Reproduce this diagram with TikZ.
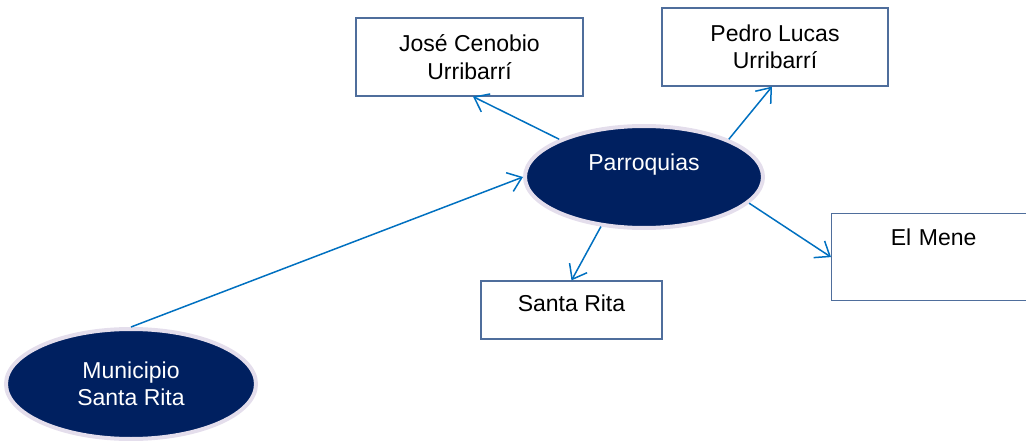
\documentclass[tikz,border=0pt]{standalone}
\usepackage{fontspec}
\setmainfont{Liberation Sans}
\usetikzlibrary{shapes.geometric,arrows.meta}
\definecolor{navy}{HTML}{002060}
\definecolor{rim}{HTML}{E4DEEC}
\definecolor{boxline}{HTML}{4F6E9C}
\definecolor{arrowblue}{HTML}{0070C0}
\tikzset{
  oval/.style={ellipse, fill=navy, draw=rim, line width=4pt, text=white, align=center,
    font=\fontsize{23}{27.5}\selectfont, inner sep=0pt},
  box/.style={rectangle, draw=boxline, line width=1.2pt, fill=white, align=center,
    font=\fontsize{23}{27.5}\selectfont, inner sep=0pt},
  link/.style={draw=arrowblue, line width=1.5pt, -{Straight Barb[length=13pt,width=20pt,line width=1.5pt]}}
}
\begin{document}
\begin{tikzpicture}[x=1pt,y=-1pt]
\useasboundingbox (0,0) rectangle (1026,441);
\node[oval, minimum width=250pt, minimum height=110pt] (mun) at (131,384) {Municipio\\Santa Rita};
\node[oval, minimum width=238pt, minimum height=102pt, text height=16pt, text depth=28pt] (parr) at (644,177) {Parroquias};
\node[box, minimum width=227pt, minimum height=78pt] (jose) at (469.5,57) {José Cenobio\\Urribarrí};
\node[box, minimum width=226pt, minimum height=78pt] (pedro) at (775,47) {Pedro Lucas\\Urribarrí};
\node[box, minimum width=181pt, minimum height=58pt, text height=16pt, text depth=14pt] (santa) at (571.5,310) {Santa Rita};
\node[box, anchor=north west, minimum width=204pt, inner ysep=16pt, inner xsep=0pt, text width=204pt, text height=16pt, text depth=39pt] (mene) at (831,213) {El Mene};
\draw[link] (mun.north) -- (parr.west);
\draw[link] (parr.156) -- ([xshift=3.5pt]jose.south);
\draw[link] (parr.24) -- ([xshift=-3pt]pedro.south);
\draw[link] (parr.229) -- (santa.north);
\draw[link] (parr.346) -- (mene.west);
\end{tikzpicture}
\end{document}
